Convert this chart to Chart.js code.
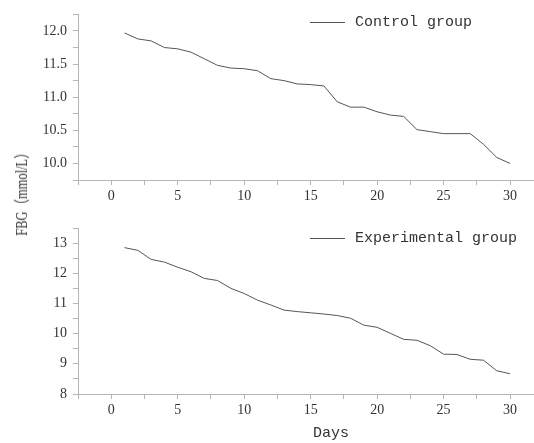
<!DOCTYPE html>
<html>
<head>
<meta charset="utf-8">
<script src="https://cdn.jsdelivr.net/npm/chart.js@4"></script>
<style>
  body { margin: 0; background: #fff; width: 534px; height: 443px; position: relative; overflow: hidden; }
  canvas { position: absolute; left: 0; }
  #c1 { top: 0; }
  #c2 { top: 200px; }
  .lbl { position: absolute; font-family: "Liberation Mono", "Noto Sans CJK SC", monospace; font-size: 15px; color: #333; white-space: nowrap; }
  #ylab { left: 20px; top: 191px; font-family: "Liberation Serif", "Noto Sans CJK SC", serif; font-size: 16px; transform: translate(-50%, -50%) rotate(-90deg) scaleX(0.78); }
  #xlab { left: 331px; top: 433px; transform: translate(-50%, -50%); }
</style>
</head>
<body>
<canvas id="c1" width="534" height="200" style="width:534px;height:200px"></canvas>
<canvas id="c2" width="534" height="243" style="width:534px;height:243px"></canvas>
<div class="lbl" id="ylab">FBG（mmol/L）</div>
<div class="lbl" id="xlab">Days</div>
<script>
const days = [1,2,3,4,5,6,7,8,9,10,11,12,13,14,15,16,17,18,19,20,21,22,23,24,25,26,27,28,29,30];
const control = [11.97,11.88,11.85,11.75,11.73,11.68,11.58,11.48,11.44,11.43,11.40,11.28,11.25,11.20,11.19,11.17,10.93,10.85,10.85,10.78,10.73,10.71,10.51,10.48,10.45,10.45,10.45,10.29,10.09,10.00];
const experimental = [12.85,12.76,12.46,12.37,12.20,12.05,11.83,11.76,11.50,11.33,11.11,10.95,10.78,10.73,10.69,10.65,10.60,10.51,10.28,10.21,10.01,9.81,9.78,9.60,9.32,9.31,9.15,9.12,8.77,8.67];
const xTicks = [0, 5, 10, 15, 20, 25, 30];

Chart.defaults.font.family = "'Liberation Serif', serif";
Chart.defaults.font.size = 14;
const tickFont = { family: "'Liberation Serif', serif", size: 14 };
const axisGrey = "#b5b5b5";

function isMultiple(v, step) {
  const r = v / step;
  return Math.abs(r - Math.round(r)) < 1e-6;
}

// tick positions every `step` from `from` up to `to`
function stepTicks(from, to, step) {
  const out = [];
  const n = Math.round((to - from) / step);
  for (let i = 0; i <= n; i++) out.push({ value: +(from + i * step).toFixed(4) });
  return out;
}

function legendPlugin(text, y) {
  return {
    id: "legendLine",
    afterDraw(chart) {
      const ctx = chart.ctx;
      ctx.save();
      ctx.strokeStyle = "#555";
      ctx.lineWidth = 1;
      ctx.beginPath();
      ctx.moveTo(310, y + 0.5);
      ctx.lineTo(345, y + 0.5);
      ctx.stroke();
      ctx.fillStyle = "#333";
      ctx.font = "15px 'Liberation Mono'";
      ctx.textBaseline = "middle";
      ctx.fillText(text, 355, y);
      ctx.restore();
    }
  };
}

function makeChart(id, label, values, yMin, yMax, yStep, yMajor, yDecimals, padTop, xHeight, legendY) {
  return new Chart(document.getElementById(id), {
    type: "line",
    data: {
      datasets: [{
        label: label,
        data: days.map((d, i) => ({ x: d, y: values[i] })),
        borderColor: "#555",
        borderWidth: 1,
        pointRadius: 0,
        tension: 0,
        fill: false
      }]
    },
    options: {
      responsive: false,
      animation: false,
      layout: { padding: { top: padTop, left: 0, right: 0, bottom: 0 } },
      plugins: { legend: { display: false }, tooltip: { enabled: false } },
      scales: {
        x: {
          type: "linear",
          min: -2.5,
          max: 31.8,
          afterBuildTicks(scale) { scale.ticks = stepTicks(-2.5, 30, 2.5); },
          afterFit(scale) { scale.height = xHeight; },
          ticks: {
            autoSkip: false,
            maxRotation: 0,
            padding: 3,
            color: "#333",
            font: tickFont,
            callback: v => {
              const r = Math.round(v);
              return (Math.abs(v - r) < 1e-6 && xTicks.includes(r)) ? String(r) : "";
            }
          },
          grid: { drawOnChartArea: false, drawTicks: true, tickLength: 5, color: axisGrey },
          border: { color: axisGrey }
        },
        y: {
          min: yMin,
          max: yMax,
          afterBuildTicks(scale) { scale.ticks = stepTicks(yMin, yMax, yStep); },
          afterFit(scale) { scale.width = 78; },
          ticks: {
            autoSkip: false,
            padding: 6,
            color: "#333",
            font: tickFont,
            callback: v => isMultiple(v, yMajor) ? v.toFixed(yDecimals) : ""
          },
          grid: { drawOnChartArea: false, drawTicks: true, tickLength: 5, color: axisGrey },
          border: { color: axisGrey }
        }
      }
    },
    plugins: [legendPlugin(label, legendY)]
  });
}

makeChart("c1", "Control group", control, 9.75, 12.25, 0.25, 0.5, 1, 13, 20, 22);
makeChart("c2", "Experimental group", experimental, 8, 13.5, 0.5, 1, 0, 28, 49, 38);
</script>
</body>
</html>
